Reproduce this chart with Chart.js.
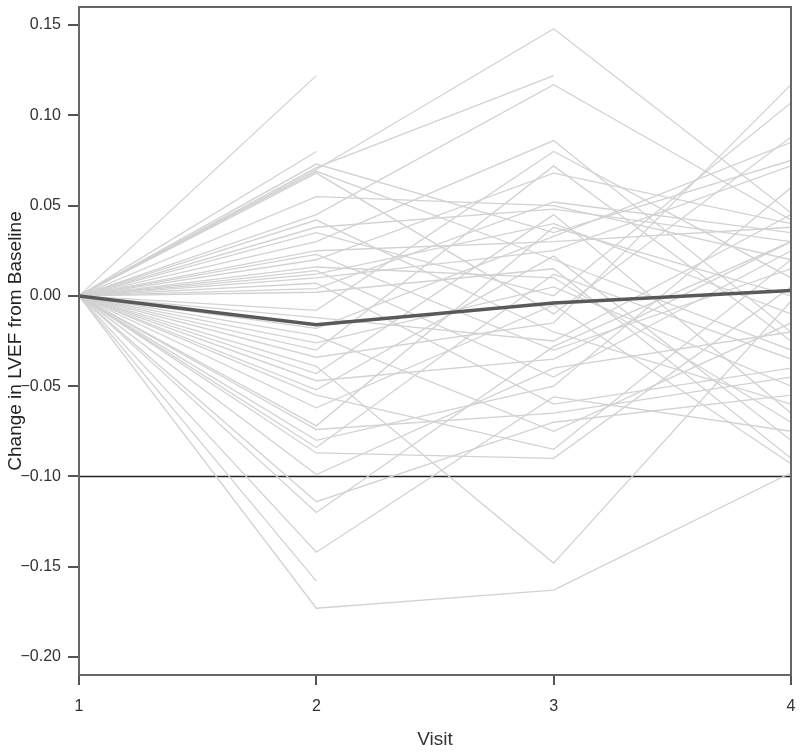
<!DOCTYPE html>
<html>
<head>
<meta charset="utf-8">
<script src="https://cdn.jsdelivr.net/npm/chart.js@4"></script>
<style>
  html, body { margin: 0; padding: 0; background: #fff; }
  #wrap { width: 800px; height: 755px; }
</style>
</head>
<body>
<div id="wrap"><canvas id="lvefChart" width="800" height="755"></canvas></div>
<script>
// ----- Data -----
const visits = [1, 2, 3, 4];
const baseline = 0; // change at visit 1 is zero by definition

// per-patient change in LVEF at visits 2, 3, 4 (null = no visit)
const v2 = [ 0.122,  0.080,  0.073,  0.071,  0.070,  0.069,  0.068,  0.055,  0.045,  0.042,
             0.038,  0.035,  0.030,  0.025,  0.023,  0.020,  0.016,  0.014,  0.012,  0.010,
             0.007,  0.004,  0.002, -0.008, -0.012, -0.018, -0.022, -0.026, -0.030, -0.034,
            -0.039, -0.043, -0.047, -0.052, -0.055, -0.062, -0.072, -0.074, -0.080, -0.084,
            -0.087, -0.099, -0.114, -0.120, -0.142, -0.158, -0.173];
const v3 = [  null,   null,  0.035,  0.122,  0.148,  0.020, -0.010,  0.050,  0.117, -0.020,
             0.048,  0.000,  0.086,  0.030, -0.030,  0.068,  0.010, -0.045,  0.040,  0.025,
            -0.060,  0.052,  0.015,  0.080, -0.025,  0.033, -0.075,  0.005,  0.072, -0.015,
            -0.148,  0.045, -0.035,  0.022, -0.085, -0.005,  0.038, -0.065, -0.050,  0.012,
            -0.090, -0.040, -0.070, -0.028, -0.056,   null, -0.163];
const v4 = [  null,   null,  0.075,   null,  0.046, -0.030,  0.088,  0.020,  0.042, -0.060,
             0.030,  0.107, -0.020,  0.038,  0.015,  0.040, -0.070,  0.025, -0.010,  0.072,
            -0.040,  0.035, -0.090,  0.010,  0.045,  0.085, -0.015, -0.050, -0.025,  0.117,
            -0.003, -0.065,  0.030, -0.080,  0.020, -0.093,  0.000, -0.045,  0.060, -0.035,
             0.005, -0.020, -0.055,  0.030, -0.075,   null, -0.098];

const meanChange = [0, -0.016, -0.004, 0.003];
const threshold = -0.10;

const yTicks = [-0.20, -0.15, -0.10, -0.05, 0.00, 0.05, 0.10, 0.15];
const xTicks = [1, 2, 3, 4];

// ----- Datasets -----
const patientSets = v2.map((_, i) => ({
  data: [baseline, v2[i], v3[i], v4[i]].map((y, j) => ({ x: visits[j], y })),
  borderColor: "#d2d2d2",
  borderWidth: 1.3,
  pointRadius: 0,
  spanGaps: false,
  order: 1
}));

const datasets = [
  {
    label: "Mean",
    data: meanChange.map((y, j) => ({ x: visits[j], y })),
    borderColor: "#595959",
    borderWidth: 3.5,
    pointRadius: 0,
    order: 0
  },
  ...patientSets,
  {
    label: "Threshold",
    data: [{ x: visits[0], y: threshold }, { x: visits[visits.length - 1], y: threshold }],
    borderColor: "#222",
    borderWidth: 1.5,
    pointRadius: 0,
    order: 2
  }
];

// box round the plot area
const frame = {
  id: "frame",
  afterDraw(chart) {
    const { ctx, chartArea: a } = chart;
    ctx.save();
    ctx.strokeStyle = "#666";
    ctx.lineWidth = 2;
    ctx.strokeRect(a.left, a.top, a.right - a.left, a.bottom - a.top);
    ctx.restore();
  }
};

const fmtTick = v => v.toFixed(2).replace("-", "\u2212");
const font = { family: "'Liberation Sans', Arial, sans-serif", size: 16 };
const titleFont = { family: "'Liberation Sans', Arial, sans-serif", size: 19 };

// ----- Chart -----
new Chart(document.getElementById("lvefChart"), {
  type: "line",
  data: { datasets },
  options: {
    responsive: false,
    animation: false,
    layout: { padding: { top: 7, right: 9, bottom: 0, left: 0 } },
    plugins: { legend: { display: false }, tooltip: { enabled: false } },
    scales: {
      x: {
        type: "linear",
        min: 1,
        max: 4,
        afterBuildTicks: s => { s.ticks = xTicks.map(v => ({ value: v })); },
        afterFit: s => { s.height = 80; s.paddingLeft = 0; s.paddingRight = 0; },
        border: { display: false },
        grid: { drawOnChartArea: false, drawTicks: true, tickLength: 10, color: "#555", lineWidth: 2 },
        ticks: { color: "#333", font, padding: 12, maxRotation: 0, callback: v => String(v) },
        title: { display: true, text: "Visit", color: "#333", font: titleFont, padding: { top: 4, bottom: 4 } }
      },
      y: {
        type: "linear",
        min: -0.21,
        max: 0.16,
        afterBuildTicks: s => { s.ticks = yTicks.map(v => ({ value: v })); },
        afterFit: s => { s.width = 79; s.paddingTop = 0; s.paddingBottom = 0; },
        border: { display: false },
        grid: { drawOnChartArea: false, drawTicks: true, tickLength: 11, color: "#555", lineWidth: 2 },
        ticks: { color: "#333", font, padding: 7, callback: v => fmtTick(v) },
        title: { display: true, text: "Change in LVEF from Baseline", color: "#222", font: titleFont, padding: { top: 4, bottom: 4 } }
      }
    }
  },
  plugins: [frame]
});
</script>
</body>
</html>
